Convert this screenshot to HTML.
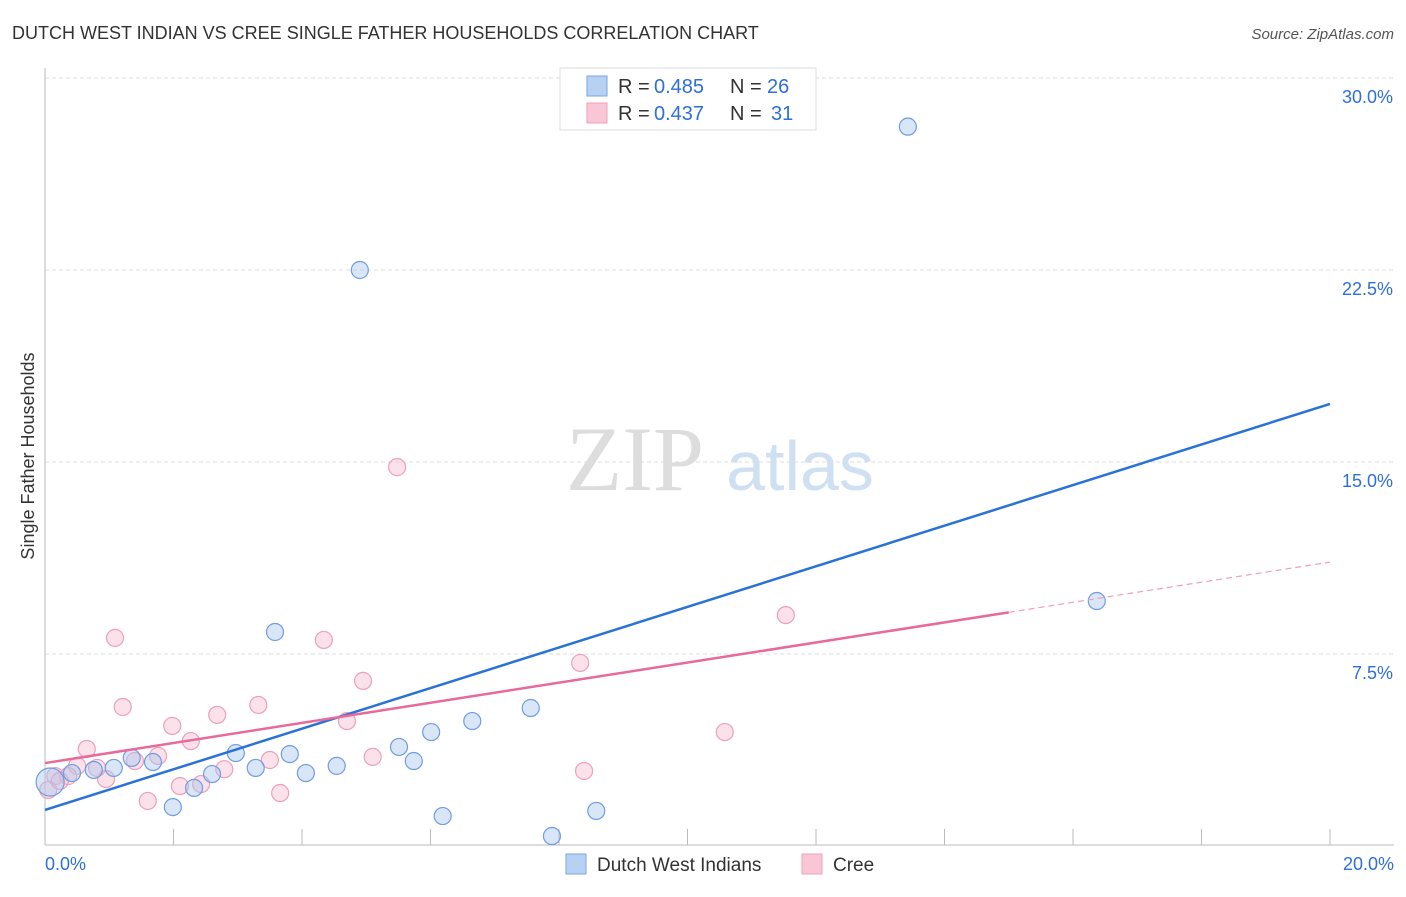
<!DOCTYPE html>
<html><head><meta charset="utf-8"><style>
body{margin:0;background:#fff;font-family:"Liberation Sans",sans-serif}
</style></head><body>
<svg id="chart" width="1406" height="892" xmlns="http://www.w3.org/2000/svg">
<text x="12" y="39" font-size="18" fill="#333">DUTCH WEST INDIAN VS CREE SINGLE FATHER HOUSEHOLDS CORRELATION CHART</text>
<text x="1394" y="39" font-size="15" fill="#555" font-style="italic" text-anchor="end">Source: ZipAtlas.com</text>
<text x="635" y="490" font-size="92" fill="#ddd" font-family="Liberation Serif,serif" text-anchor="middle">ZIP</text>
<text x="800" y="490" font-size="70" fill="#cfe0f3" text-anchor="middle">atlas</text>
<text transform="translate(34,456) rotate(-90)" font-size="18" fill="#333" text-anchor="middle">Single Father Households</text>
<g id="grid"></g><g id="pts"></g><g id="lines"></g>
<g>
<rect x="560" y="68" width="256" height="62" fill="#fff" stroke="#ddd"/>
<rect x="587" y="76" width="20" height="20" fill="#b7d1f3" stroke="#7aa6e0"/>
<rect x="587" y="103" width="20" height="20" fill="#f9c6d5" stroke="#eea0b8"/>
<text x="618" y="93" font-size="20" fill="#333">R =</text>
<text x="654" y="93" font-size="20" fill="#2f6fd8">0.485</text>
<text x="730" y="93" font-size="20" fill="#333">N =</text>
<text x="767" y="93" font-size="20" fill="#2f6fd8">26</text>
<text x="618" y="120" font-size="20" fill="#333">R =</text>
<text x="654" y="120" font-size="20" fill="#2f6fd8">0.437</text>
<text x="730" y="120" font-size="20" fill="#333">N =</text>
<text x="771" y="120" font-size="20" fill="#2f6fd8">31</text>
</g>
<g>
<rect x="566" y="854" width="20" height="20" fill="#b7d1f3" stroke="#7aa6e0"/>
<text x="597" y="871" font-size="19" fill="#333">Dutch West Indians</text>
<rect x="802" y="854" width="20" height="20" fill="#f9c6d5" stroke="#eea0b8"/>
<text x="833" y="871" font-size="19" fill="#333">Cree</text>
</g>
</svg>
<script>
const yTicks=[7.5,15,22.5,30];
const yTickLabels=["7.5%","15.0%","22.5%","30.0%"];
const blueX=[13.43,4.9,16.37,3.58,7.56,6.65,6.01,5.51,5.74,4.54,4.06,3.81,3.28,2.97,2.6,2.32,1.99,1.68,1.35,1.07,0.76,0.42,0.08,6.19,7.89,8.58];
const blueY=[28.1,22.5,9.57,8.36,5.39,4.88,4.45,3.87,3.32,3.13,2.85,3.59,3.05,3.63,2.81,2.27,1.52,3.28,3.44,3.05,2.97,2.85,2.5,1.17,0.39,1.37];
const pinkX=[5.48,11.53,1.09,4.34,8.33,4.95,1.21,3.32,2.68,1.98,4.7,10.58,2.27,0.65,1.76,5.1,3.5,1.4,0.5,0.81,2.79,8.39,0.36,0.95,2.1,2.43,3.66,1.6,0.16,0.05,0.23];
const pinkY=[14.8,9.02,8.13,8.05,7.15,6.45,5.43,5.51,5.12,4.69,4.88,4.45,4.1,3.79,3.52,3.48,3.36,3.32,3.13,3.05,3.0,2.93,2.73,2.62,2.34,2.42,2.07,1.76,2.73,2.19,2.54];
const blueLine=[1.41,17.27];
const pinkLine=[3.24,11.09];
const NS="http://www.w3.org/2000/svg";
const X=v=>45+v*64.25, Y=v=>846-v*25.6;
function mk(t,a,p){const e=document.createElementNS(NS,t);for(const k in a)e.setAttribute(k,a[k]);document.getElementById(p).appendChild(e);return e;}
yTicks.forEach((t,i)=>{
 const l=mk('line',{x1:45,x2:1394,y1:Y(t),y2:Y(t),stroke:'#ddd','stroke-dasharray':'4,3'},'grid');
 
 
 const tx=mk('text',{x:1393,y:Y(t)+25,'font-size':18,fill:'#2f6fd8','text-anchor':'end'},'grid');
 tx.textContent=yTickLabels[i];
 
 
});
const ax=mk('line',{x1:45,x2:1394,y1:845,y2:845,stroke:'#bbb'},'grid');


const ay=mk('line',{x1:45,x2:45,y1:68,y2:845,stroke:'#bbb'},'grid');


for(let i=0;i<=10;i++){const t=mk('line',{x1:X(i*2),x2:X(i*2),y1:829,y2:845,stroke:'#bbb'},'grid');
 
 }
[["0.0%",45,"start"],["20.0%",1394,"end"]].forEach(d=>{const t=mk('text',{x:d[1],y:870,'font-size':18,fill:'#2f6fd8','text-anchor':d[2]},'grid');t.textContent=d[0];
 
 });
pinkX.forEach((v,i)=>{const c=mk('circle',{cx:X(v),cy:Y(pinkY[i]),r:8.5,fill:'rgba(246,180,200,0.4)',stroke:'#eea0b8','stroke-width':1.2},'pts');
 
 });
blueX.forEach((v,i)=>{const c=mk('circle',{cx:X(v),cy:Y(blueY[i]),r:i==22?14:8.5,fill:'rgba(170,200,240,0.45)',stroke:'#6f9de0','stroke-width':1.2},'pts');
 
 });
const bl=mk('line',{x1:X(0),y1:Y(blueLine[0]),x2:X(20),y2:Y(blueLine[1]),stroke:'#2a72d8','stroke-width':2.5},'lines');


const pm=pinkLine[0]+(pinkLine[1]-pinkLine[0])*0.75;
const pl=mk('line',{x1:X(0),y1:Y(pinkLine[0]),x2:X(15),y2:Y(pm),stroke:'#e8699a','stroke-width':2.5},'lines');


const pd=mk('line',{x1:X(15),y1:Y(pm),x2:X(20),y2:Y(pinkLine[1]),stroke:'#eea0b8','stroke-width':1.2,'stroke-dasharray':'6,4'},'lines');


</script>
</body></html>
